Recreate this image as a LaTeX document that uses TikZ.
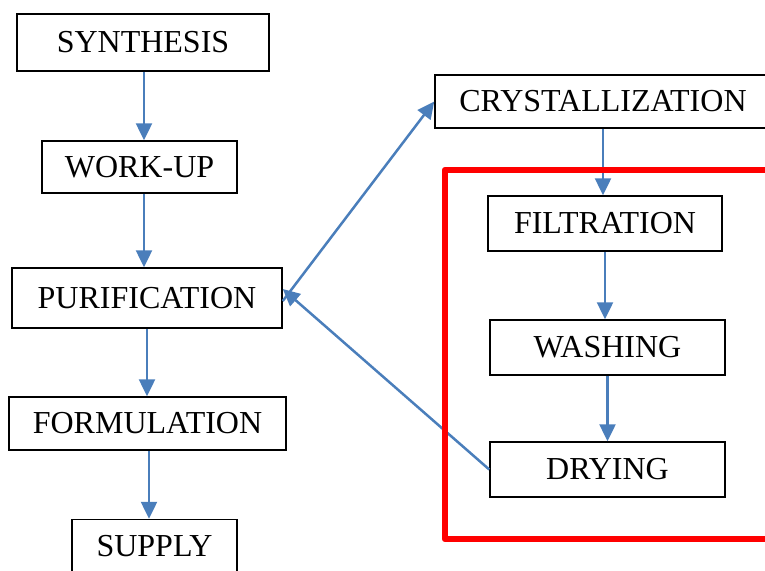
\documentclass[tikz,border=0pt]{standalone}
\usepackage{fontspec}
\setmainfont{Liberation Serif}
\usetikzlibrary{arrows.meta}
\definecolor{flowblue}{RGB}{74,126,187}
\begin{document}
\begin{tikzpicture}[x=1pt,y=-1pt,
        stage/.style={draw,line width=1.5pt,inner sep=0pt,font=\fontsize{32}{38}\selectfont},
        flow/.style={draw=flowblue,line width=2.5pt,-{Triangle[length=17pt,width=16pt]}}]
        \useasboundingbox (0,0) rectangle (765,570);
        \clip (0,0) rectangle (765,570);
        \path (143,42.5) node [stage,minimum width=252pt,minimum height=57pt](synthesis){SYNTHESIS};
        \path (139.5,167) node [stage,minimum width=195pt,minimum height=52pt](workup){WORK-UP};
        \path (147,298) node [stage,minimum width=270pt,minimum height=60pt](purification){PURIFICATION};
        \path (147.5,423.5) node [stage,minimum width=277pt,minimum height=53pt](formulation){FORMULATION};
        \path (154.5,546) node [stage,minimum width=165pt,minimum height=53pt](supply){SUPPLY};
        \path (603,101.5) node [stage,minimum width=336pt,minimum height=53pt](crystallization){CRYSTALLIZATION};
        \path (605,223.5) node [stage,minimum width=234pt,minimum height=55pt](filtration){FILTRATION};
        \path (607.5,347.5) node [stage,minimum width=235pt,minimum height=55pt](washing){WASHING};
        \path (607.5,469.5) node [stage,minimum width=235pt,minimum height=55pt](drying){DRYING};
        \draw[flow] ([xshift=1pt]synthesis.south) -- ([xshift=1pt]synthesis.south |- workup.north);
        \draw[flow] ([xshift=4.5pt]workup.south) -- ([xshift=4.5pt]workup.south |- purification.north);
        \draw[flow] (purification.south) -- (purification.south |- formulation.north);
        \draw[flow] ([xshift=1.5pt]formulation.south) -- ([xshift=1.5pt]formulation.south |- supply.north);
        \draw[flow] (crystallization.south) -- (crystallization.south |- filtration.north);
        \draw[flow] (filtration.south) -- (filtration.south |- washing.north);
        \draw[flow] (washing.south) -- (washing.south |- drying.north);
        \draw[flow] ([yshift=-3pt]purification.east) -- (crystallization.west);
        \draw[flow] (drying.west) -- ([yshift=9pt]purification.east);
        % red frame around the solid handling steps
        \draw[red,line width=6.5pt,line join=round] (790,170) -- (445,170) -- (445,539) -- (790,539);


    \end{tikzpicture}
\end{document}
